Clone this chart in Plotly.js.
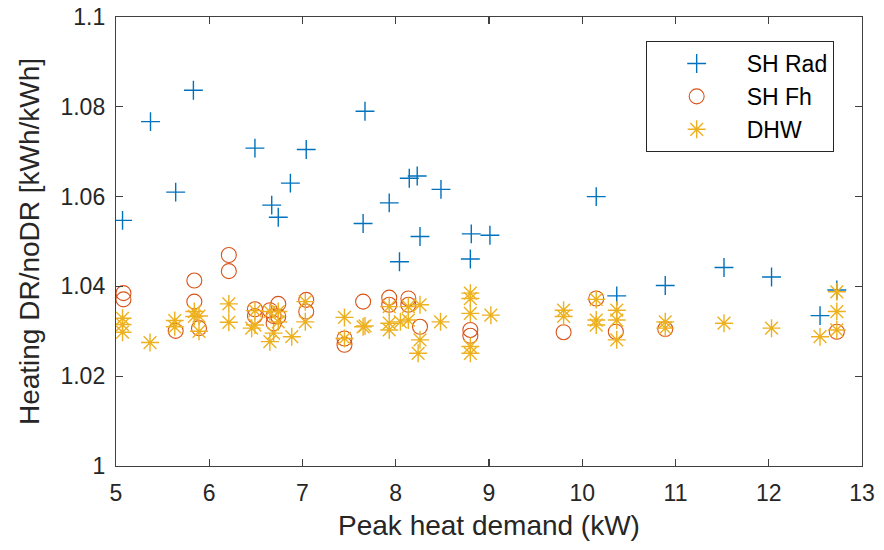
<!DOCTYPE html>
<html>
<head>
<meta charset="utf-8">
<script src="https://cdn.plot.ly/plotly-3.0.1.min.js"></script>
<style>html,body{margin:0;padding:0;background:#fff;}#chart{width:884px;height:550px;}</style>
</head>
<body>
<div id="chart"></div>
<script>
// SH Rad
const radX = [5.07, 5.37, 5.83, 5.64, 6.49, 7.04, 6.87, 6.67, 6.74, 7.67, 7.65, 8.145, 8.23, 8.485, 7.93, 8.26, 8.04, 8.81, 9.01, 8.80, 10.15, 10.37, 10.89, 11.52, 12.03, 12.55, 12.73];
const radY = [1.0547, 1.0767, 1.0837, 1.0610, 1.0708, 1.0705, 1.0630, 1.0581, 1.0554, 1.0790, 1.0540, 1.0641, 1.0646, 1.0616, 1.0586, 1.0511, 1.0455, 1.0517, 1.0514, 1.0461, 1.0600, 1.0379, 1.0402, 1.0442, 1.0421, 1.0335, 1.0392];
// SH Fh
const fhX = [5.08, 5.08, 5.84, 5.84, 5.64, 5.89, 6.21, 6.21, 6.49, 6.49, 6.65, 6.69, 6.74, 6.74, 6.69, 7.04, 7.04, 7.45, 7.45, 7.65, 7.93, 7.93, 8.135, 8.135, 8.26, 8.80, 8.80, 9.80, 10.15, 10.36, 10.89, 12.73];
const fhY = [1.0385, 1.0371, 1.0413, 1.0366, 1.0301, 1.0307, 1.0470, 1.0434, 1.0349, 1.0334, 1.0347, 1.0334, 1.0361, 1.0333, 1.0318, 1.0370, 1.0344, 1.0284, 1.0270, 1.0366, 1.0375, 1.0359, 1.0373, 1.0359, 1.0310, 1.0303, 1.0290, 1.0298, 1.0373, 1.0299, 1.0305, 1.0299];
// DHW
const dhwX = [5.07, 5.07, 5.07, 5.365, 5.63, 5.63, 5.84, 5.84, 5.89, 5.89, 6.21, 6.21, 6.49, 6.49, 6.455, 6.65, 6.69, 6.65, 6.74, 6.74, 6.885, 7.03, 7.03, 7.45, 7.45, 7.65, 7.67, 7.93, 7.93, 7.93, 8.05, 8.135, 8.135, 8.26, 8.26, 8.24, 8.48, 8.80, 8.80, 8.80, 8.80, 8.80, 9.02, 9.80, 9.80, 10.15, 10.15, 10.15, 10.37, 10.37, 10.37, 10.89, 10.89, 11.52, 12.03, 12.55, 12.73, 12.73, 12.73];
const dhwY = [1.0329, 1.0315, 1.0298, 1.0275, 1.0324, 1.0310, 1.0344, 1.0333, 1.0334, 1.0300, 1.0361, 1.0320, 1.0346, 1.0314, 1.0307, 1.0344, 1.0296, 1.0277, 1.0321, 1.0344, 1.0288, 1.0366, 1.0321, 1.0331, 1.0284, 1.0310, 1.0312, 1.0355, 1.0318, 1.0303, 1.0321, 1.0355, 1.0325, 1.0359, 1.0281, 1.0251, 1.0321, 1.0385, 1.0373, 1.0340, 1.0266, 1.0251, 1.0336, 1.0347, 1.0333, 1.0371, 1.0325, 1.0314, 1.0347, 1.0325, 1.0281, 1.0321, 1.0307, 1.0318, 1.0307, 1.0288, 1.0388, 1.0344, 1.0303];

const seriesNames = ['SH Rad', 'SH Fh', 'DHW'];
const xTicks = [5, 6, 7, 8, 9, 10, 11, 12, 13];
const yTicks = [1, 1.02, 1.04, 1.06, 1.08, 1.1];
const yTickText = ['1', '1.02', '1.04', '1.06', '1.08', '1.1'];

const FONT = 'Liberation Sans, Arial, sans-serif';
const traces = [
  {x: radX, y: radY, name: seriesNames[0], mode: 'markers', type: 'scatter',
   marker: {symbol: 'cross-thin-open', size: 13.5, color: '#0072BD', line: {color: '#0072BD', width: 1.4}}},
  {x: fhX, y: fhY, name: seriesNames[1], mode: 'markers', type: 'scatter',
   marker: {symbol: 'circle-open', size: 15, color: '#D95319', line: {color: '#D95319', width: 1.1}}},
  {x: dhwX, y: dhwY, name: seriesNames[2], mode: 'markers', type: 'scatter',
   marker: {symbol: 'asterisk-open', size: 15, color: '#EDB120', line: {color: '#EDB120', width: 1.4}}}
];

const axisCommon = {
  showgrid: false, zeroline: false, showline: true, linecolor: '#404040', linewidth: 1.2,
  mirror: 'ticks', ticks: 'inside', ticklen: 7, tickwidth: 1.2, tickcolor: '#404040',
  tickfont: {family: FONT, size: 23, color: '#262626'}
};

const layout = {
  width: 884, height: 550,
  margin: {l: 116, r: 22, t: 17, b: 84},
  paper_bgcolor: '#ffffff', plot_bgcolor: '#ffffff',
  showlegend: true,
  xaxis: Object.assign({}, axisCommon, {
    range: [5, 13], tickvals: xTicks, ticktext: xTicks.map(String), ticklabelstandoff: 6,
    title: {text: 'Peak heat demand (kW)', font: {family: FONT, size: 28, color: '#262626'}, standoff: 10}
  }),
  yaxis: Object.assign({}, axisCommon, {
    range: [1, 1.1], tickvals: yTicks, ticktext: yTickText, ticklabelstandoff: 5,
    title: {text: 'Heating DR/noDR [kWh/kWh]', font: {family: FONT, size: 28, color: '#262626'}, standoff: 12}
  }),
  legend: {
    x: 0.71, y: 0.9465, xanchor: 'left', yanchor: 'top',
    bgcolor: '#ffffff', bordercolor: '#262626', borderwidth: 1,
    font: {family: FONT, size: 23, color: '#000000'},
    itemwidth: 90
  }
};

Plotly.newPlot('chart', traces, layout, {displayModeBar: false, staticPlot: true});
</script>
</body>
</html>
